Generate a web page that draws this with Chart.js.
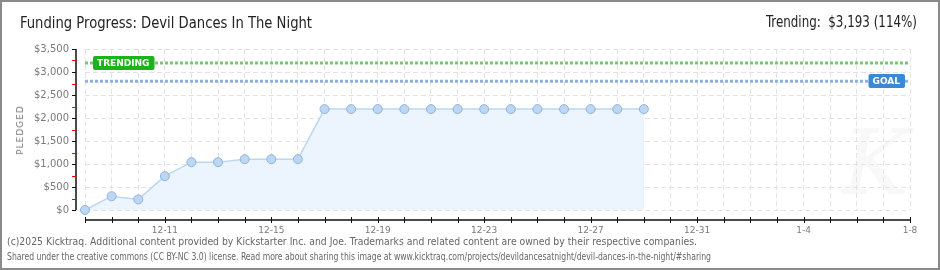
<!DOCTYPE html>
<html>
<head>
<meta charset="utf-8">
<script src="https://cdn.jsdelivr.net/npm/chart.js@4.4.1/dist/chart.umd.min.js"></script>
<style>
  html, body { margin: 0; padding: 0; background: #fff; }
  #wrap { position: relative; width: 940px; height: 270px; overflow: hidden; }
  #frame { position: absolute; left: 0; top: 0; width: 940px; height: 270px; box-sizing: border-box; border: 2px solid #8a8a8a; pointer-events: none; }
  canvas { position: absolute; left: 0; top: 0; }
  .txt { position: absolute; white-space: nowrap; transform-origin: left center; }
  #title { left: 20px; top: 13px; font: 16px "DejaVu Sans Condensed", "Liberation Sans Narrow", sans-serif; color: #222; }
  #trend { left: 766px; top: 13px; font: 15px "DejaVu Sans Condensed", "Liberation Sans Narrow", sans-serif; color: #222; }
  #pledged { left: 20px; top: 130px; font: 9px "DejaVu Sans", sans-serif; color: #777; letter-spacing: 1px; transform: translate(-50%, -50%) rotate(-90deg); transform-origin: center; }
  .foot { left: 7px; font: 10px "DejaVu Sans Condensed", sans-serif; color: #666; }
  #f1 { top: 236px; }
  #f2 { top: 251px; }
  #wm { left: 842px; top: 110px; font: italic 90px "DejaVu Serif", serif; color: #f8f8f8; }
</style>
</head>
<body>
<div id="wrap">
  <div id="wm" class="txt">K</div>
  <canvas id="chart" width="940" height="270"></canvas>
  <div id="title" class="txt" data-w="292">Funding Progress: Devil Dances In The Night</div>
  <div id="trend" class="txt" data-w="151">Trending: &nbsp;$3,193 (114%)</div>
  <div id="pledged" class="txt">PLEDGED</div>
  <div id="f1" class="txt foot" data-w="690">(c)2025 Kicktraq. Additional content provided by Kickstarter Inc. and Joe. Trademarks and related content are owned by their respective companies.</div>
  <div id="f2" class="txt foot" data-w="704">Shared under the creative commons (CC BY-NC 3.0) license. Read more about sharing this image at www.kicktraq.com/projects/devildancesatnight/devil-dances-in-the-night/#sharing</div>
  <div id="frame"></div>
</div>
<script>
// days on the x axis, 12-8 .. 1-8
const days = ['12-8','12-9','12-10','12-11','12-12','12-13','12-14','12-15','12-16','12-17','12-18',
  '12-19','12-20','12-21','12-22','12-23','12-24','12-25','12-26','12-27','12-28','12-29','12-30',
  '12-31','1-1','1-2','1-3','1-4','1-5','1-6','1-7','1-8'];
const tickLabels = ['12-11','12-15','12-19','12-23','12-27','12-31','1-4','1-8'];
const pledged = [0, 300, 230, 735, 1040, 1040, 1105, 1105, 1105, 2193, 2193, 2193, 2193,
  2193, 2193, 2193, 2193, 2193, 2193, 2193, 2193, 2193];
const goal = 2800;
const trending = 3193;
const yMax = 3500;
const yStep = 500;

// squeeze text blocks to the widths in the reference
document.querySelectorAll('[data-w]').forEach(el => {
  const w = el.getBoundingClientRect().width;
  el.style.transform = 'scaleX(' + (Number(el.dataset.w) / w) + ')';
});

const lastDay = days.length - 1;

const axesPlugin = {
  id: 'axes',
  afterDraw(chart) {
    const { ctx, chartArea } = chart;
    const xs = chart.scales.x, ys = chart.scales.y;
    const ax = chartArea.left - 9;
    const ay = chartArea.bottom + 10;
    ctx.save();
    ctx.strokeStyle = '#111';
    ctx.lineWidth = 1.5;
    ctx.beginPath();
    ctx.moveTo(ax, ys.getPixelForValue(yMax));
    ctx.lineTo(ax, ys.getPixelForValue(0));
    ctx.moveTo(chartArea.left, ay);
    ctx.lineTo(xs.getPixelForValue(lastDay), ay);
    ctx.stroke();
    ctx.lineWidth = 1;
    for (let v = 0; v <= yMax; v += yStep / 2) {
      const py = Math.round(ys.getPixelForValue(v)) + 0.5;
      ctx.strokeStyle = v % yStep === 0 ? '#111' : '#e00';
      ctx.beginPath();
      ctx.moveTo(ax - 4, py);
      ctx.lineTo(ax, py);
      ctx.stroke();
    }
    ctx.strokeStyle = '#111';
    for (let d = 0; d <= lastDay; d++) {
      const px = Math.round(xs.getPixelForValue(d)) + 0.5;
      ctx.beginPath();
      ctx.moveTo(px, ay - 3);
      ctx.lineTo(px, ay + 3);
      ctx.stroke();
    }
    ctx.restore();
  }
};

function tag(ctx, text, x, y, bg, alignRight) {
  ctx.font = 'bold 9px "DejaVu Sans", sans-serif';
  const w = ctx.measureText(text).width + 9;
  const h = 14;
  const left = alignRight ? x - w : x;
  ctx.fillStyle = bg;
  ctx.beginPath();
  ctx.roundRect(left, Math.round(y - h / 2), w, h, 2);
  ctx.fill();
  ctx.fillStyle = '#fff';
  ctx.textBaseline = 'middle';
  ctx.textAlign = 'left';
  ctx.fillText(text, left + 4, Math.round(y) + 0.5);
}

const tagPlugin = {
  id: 'tags',
  afterDatasetsDraw(chart) {
    const { ctx, chartArea } = chart;
    const ys = chart.scales.y;
    ctx.save();
    tag(ctx, 'TRENDING', chartArea.left + 8, ys.getPixelForValue(trending), '#1cb21c', false);
    tag(ctx, 'GOAL', chartArea.right - 5, ys.getPixelForValue(goal), '#3b88d6', true);
    ctx.restore();
  }
};

new Chart(document.getElementById('chart'), {
  type: 'line',
  data: {
    datasets: [
      {
        label: 'Trending',
        data: [{ x: 0, y: trending }, { x: lastDay, y: trending }],
        borderColor: '#74c874',
        borderWidth: 3,
        borderDash: [3, 2],
        pointRadius: 0,
        fill: false
      },
      {
        label: 'Goal',
        data: [{ x: 0, y: goal }, { x: lastDay, y: goal }],
        borderColor: '#8eb0da',
        borderWidth: 3,
        borderDash: [3, 2],
        pointRadius: 0,
        fill: false
      },
      {
        label: 'Pledged',
        data: pledged.map((v, i) => ({ x: i, y: v })),
        borderColor: '#bcd7f3',
        borderWidth: 1.5,
        backgroundColor: '#ecf4fd',
        fill: 'origin',
        clip: false,
        pointRadius: 4.5,
        pointBackgroundColor: '#bcd7f3',
        pointBorderColor: '#92b3d8',
        pointBorderWidth: 1,
        tension: 0
      }
    ]
  },
  options: {
    responsive: false,
    animation: false,
    layout: { padding: { left: 0, right: 30, top: 49, bottom: 0 } },
    plugins: { legend: { display: false }, tooltip: { enabled: false } },
    scales: {
      x: {
        type: 'linear',
        min: 0,
        max: lastDay,
        afterFit: s => { s.height = 60; },
        afterBuildTicks: s => { s.ticks = days.map((d, i) => ({ value: i })); },
        grid: { color: '#e3e3e3', drawTicks: false },
        border: { display: false, dash: [5, 3] },
        ticks: {
          autoSkip: false,
          maxRotation: 0,
          padding: 15,
          color: '#7a7a7a',
          font: { family: 'DejaVu Sans', size: 9 },
          callback: v => tickLabels.includes(days[v]) ? days[v] : ''
        }
      },
      y: {
        min: 0,
        max: yMax,
        afterFit: s => { s.width = 85; },
        grid: { color: '#e3e3e3', drawTicks: false },
        border: { display: false, dash: [5, 3] },
        ticks: {
          stepSize: yStep,
          padding: 16,
          color: '#7a7a7a',
          font: { family: 'DejaVu Sans', size: 10 },
          callback: v => '$' + v.toLocaleString('en-US')
        }
      }
    }
  },
  plugins: [axesPlugin, tagPlugin]
});
</script>
</body>
</html>
